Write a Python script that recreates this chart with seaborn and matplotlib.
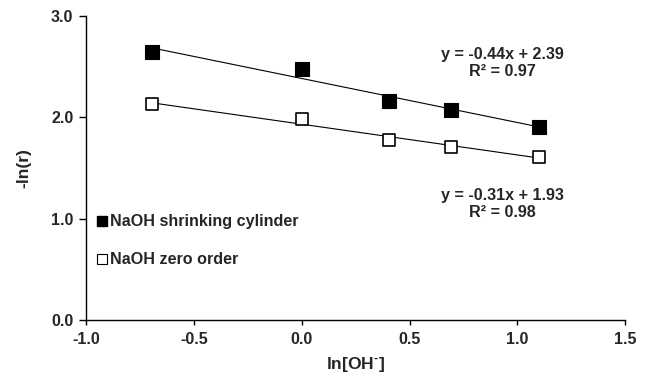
import numpy as np
import pandas as pd
import seaborn as sns
import matplotlib
matplotlib.use("Agg")
import matplotlib.pyplot as plt
from matplotlib.lines import Line2D

# ln[OH-] for 0.5, 1, 1.5, 2 and 3 M NaOH
ln_oh = [-0.693, 0.0, 0.405, 0.693, 1.099]
shrinking_cylinder = [2.65, 2.48, 2.16, 2.07, 1.91]
zero_order = [2.13, 1.98, 1.78, 1.71, 1.61]

series_names = ["NaOH shrinking cylinder", "NaOH zero order"]
fit_labels = [("y = -0.44x + 2.39", "R² = 0.97"), ("y = -0.31x + 1.93", "R² = 0.98")]
x_ticks = [-1.0, -0.5, 0.0, 0.5, 1.0, 1.5]
y_ticks = [0.0, 1.0, 2.0, 3.0]

sns.set_theme(style="ticks")
plt.rcParams["font.family"] = ["Liberation Sans", "DejaVu Sans"]
plt.rcParams["font.weight"] = "bold"
plt.rcParams["mathtext.fontset"] = "custom"
plt.rcParams["mathtext.rm"] = "Liberation Sans:bold"
plt.rcParams["mathtext.bf"] = "Liberation Sans:bold"
plt.rcParams["mathtext.it"] = "Liberation Sans:bold"

FS = 11.6

df = pd.DataFrame({
    "x": ln_oh * 2,
    "y": shrinking_cylinder + zero_order,
    "series": [series_names[0]] * 5 + [series_names[1]] * 5,
})

fig = plt.figure(figsize=(6.46, 3.76), dpi=100)
ax = fig.add_axes([0.133, 0.149, 0.835, 0.808])

styles = {
    series_names[0]: dict(facecolor="black", s=88, lw=0.8),
    series_names[1]: dict(facecolor="white", s=78, lw=1.2),
}
for name in series_names:
    sub = df[df["series"] == name]
    st = styles[name]
    sns.regplot(data=sub, x="x", y="y", ci=None, ax=ax, marker="s",
                scatter_kws=dict(s=st["s"], facecolors=st["facecolor"], alpha=1.0,
                                 edgecolors="black", linewidths=st["lw"], zorder=3),
                line_kws=dict(color="black", lw=0.8, zorder=2))

ax.set_xlim(-1.0, 1.5)
ax.set_ylim(0.0, 3.0)
ax.set_xticks(x_ticks)
ax.set_yticks(y_ticks)
ax.set_xticklabels([f"{v:.1f}" for v in x_ticks])
ax.set_yticklabels([f"{v:.1f}" for v in y_ticks])
ax.tick_params(direction="out", width=1, color="black", labelsize=FS)
ax.tick_params(axis="x", length=3.5, pad=5)
ax.tick_params(axis="y", length=5, pad=4)
for lbl in ax.get_xticklabels() + ax.get_yticklabels():
    lbl.set_fontweight("bold")

ax.set_xlabel(r"$\mathrm{ln[OH}^{\text{-}}\mathrm{]}$", fontsize=FS + 1, labelpad=6)
ax.set_ylabel("-ln(r)", fontsize=FS + 1, fontweight="bold", labelpad=14)

sns.despine(ax=ax)
for s in ["left", "bottom"]:
    ax.spines[s].set_color("black")
    ax.spines[s].set_linewidth(1.0)

# regression equations
eq_pos = [(0.93, 2.625), (0.93, 1.234)]
for (eq, r2), (ex, ey) in zip(fit_labels, eq_pos):
    ax.text(ex, ey, eq, ha="center", va="center", fontsize=FS, fontweight="bold")
    ax.text(ex, ey - 0.175, r2, ha="center", va="center", fontsize=FS, fontweight="bold")

handles = [
    Line2D([], [], ls="none", marker="s", markersize=7.2, markerfacecolor="black",
           markeredgecolor="black"),
    Line2D([], [], ls="none", marker="s", markersize=7.2, markerfacecolor="white",
           markeredgecolor="black", markeredgewidth=0.8),
]
leg = ax.legend(handles, series_names, loc="upper left", bbox_to_anchor=(0.0, 0.385),
                frameon=False, handlelength=0.6, handletextpad=0.2, borderaxespad=0.3,
                labelspacing=1.42, prop=dict(size=FS, weight="bold"))

fig.savefig("out.png", dpi=100)
